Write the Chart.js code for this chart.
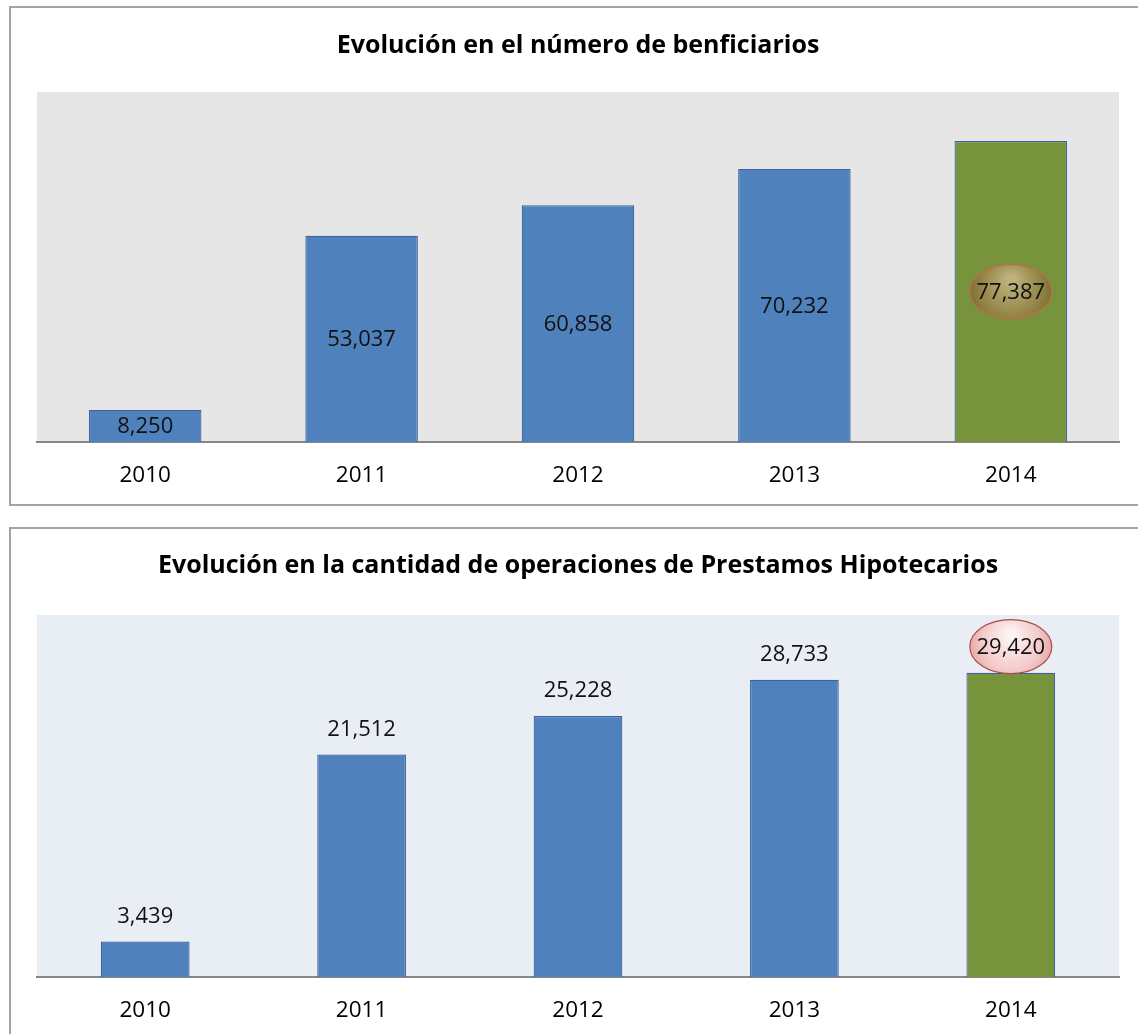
<!DOCTYPE html>
<html lang="es">
<head>
    <meta charset="UTF-8">
    <title>Evolución beneficiarios y préstamos</title>
    <style>
        body {
            margin: 0;
            padding: 0;
            background: #ffffff;
            font-family: "Open Sans", sans-serif;
            overflow: hidden;
        }
        .frame {
            position: absolute;
            left: 9px;
            width: 1160px;
            border: 2px solid #a3a3a3;
            box-sizing: border-box;
        }
        canvas {
            position: absolute;
            left: 0;
        }
    </style>
</head>
<body>
    <div class="frame" style="top: 6px; height: 500px;"></div>
    <div class="frame" style="top: 527px; height: 540px;"></div>
    <canvas id="chart1" width="1138" height="515" style="top: 0px;"></canvas>
    <canvas id="chart2" width="1138" height="540" style="top: 520px;"></canvas>

    <script src="https://cdn.jsdelivr.net/npm/chart.js"></script>
    <script>
        const years = ['2010', '2011', '2012', '2013', '2014'];
        const beneficiarios = [8250, 53037, 60858, 70232, 77387];
        const prestamos = [3439, 21512, 25228, 28733, 29420];

        const blue = '#4f81bd';
        const green = '#77933c';
        const fmt = v => v.toLocaleString('en-US');

        // fondo del area de trazado + etiquetas de datos
        const plotBg = {
            id: 'plotBg',
            beforeDraw(chart, args, opts) {
                const a = chart.chartArea;
                const ctx = chart.ctx;
                ctx.save();
                ctx.fillStyle = opts.color;
                ctx.fillRect(a.left, a.top, a.right - a.left, a.bottom - a.top);
                ctx.restore();
            }
        };

        function drawBubble(ctx, x, y, style) {
            ctx.save();
            const g = ctx.createRadialGradient(x, y - 12, 4, x, y, 46);
            if (style === 'olive') {
                g.addColorStop(0, '#bdb27c');
                g.addColorStop(0.6, '#958648');
                g.addColorStop(1, '#75662f');
            } else {
                g.addColorStop(0, '#fdf2f2');
                g.addColorStop(0.6, '#f4c9c9');
                g.addColorStop(1, '#e39a9a');
            }
            ctx.beginPath();
            ctx.ellipse(x, y, 41, 27, 0, 0, Math.PI * 2);
            ctx.fillStyle = g;
            ctx.fill();
            ctx.lineWidth = 1.2;
            ctx.strokeStyle = style === 'olive' ? '#c46a4a' : '#a64b4b';
            ctx.stroke();
            ctx.restore();
        }

        const dataLabels = {
            id: 'dataLabels',
            afterDatasetsDraw(chart, args, opts) {
                const ctx = chart.ctx;
                const meta = chart.getDatasetMeta(0);
                const values = chart.data.datasets[0].data;
                ctx.save();
                ctx.font = '22px "Open Sans", sans-serif';
                ctx.textAlign = 'center';
                ctx.textBaseline = 'middle';
                meta.data.forEach((bar, i) => {
                    const x = bar.x;
                    const y = opts.mode === 'center' ? (bar.y + bar.base) / 2 : bar.y - 26;
                    if (i === values.length - 1) {
                        drawBubble(ctx, x, y, opts.bubble);
                    }
                    ctx.fillStyle = '#111111';
                    ctx.fillText(fmt(values[i]), x, y + 1);
                });
                ctx.restore();
            }
        };

        function makeChart(id, title, values, yMax, barPct, bg, mode, bubble, titleBottom, padBottom) {
            return new Chart(document.getElementById(id), {
                type: 'bar',
                data: {
                    labels: years,
                    datasets: [{
                        data: values,
                        backgroundColor: values.map((v, i) => i === values.length - 1 ? green : blue),
                        borderColor: '#3a63a0',
                        borderWidth: 1.2,
                        categoryPercentage: 1,
                        barPercentage: barPct
                    }]
                },
                options: {
                    responsive: false,
                    animation: false,
                    layout: {
                        padding: { left: 37, right: 19, top: 0, bottom: padBottom }
                    },
                    plugins: {
                        legend: { display: false },
                        tooltip: { enabled: false },
                        title: {
                            display: true,
                            text: title,
                            color: '#000000',
                            font: { family: '"Open Sans", sans-serif', size: 25, weight: 'bold' },
                            padding: { top: 31, bottom: titleBottom }
                        },
                        plotBg: { color: bg },
                        dataLabels: { mode: mode, bubble: bubble }
                    },
                    scales: {
                        x: {
                            grid: { display: false, drawTicks: false },
                            border: { display: true, color: '#878787', width: 2 },
                            ticks: {
                                color: '#000000',
                                padding: 20,
                                font: { family: '"Open Sans", sans-serif', size: 22.5 }
                            }
                        },
                        y: {
                            display: false,
                            min: 0,
                            max: yMax
                        }
                    }
                },
                plugins: [plotBg, dataLabels]
            });
        }

        makeChart('chart1', 'Evolución en el número de benficiarios', beneficiarios, 90000, 0.52,
            '#e6e6e6', 'center', 'olive', 31, 6);
        makeChart('chart2', 'Evolución en la cantidad de operaciones de Prestamos Hipotecarios', prestamos, 35000, 0.41,
            '#e9edf4', 'above', 'pink', 34, 16);
    </script>
</body>
</html>
